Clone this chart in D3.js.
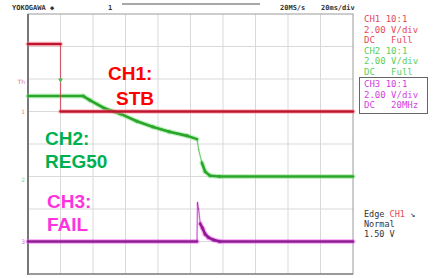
<!DOCTYPE html>
<html>
<head>
<meta charset="utf-8">
<script src="https://cdn.jsdelivr.net/npm/d3@7"></script>
<style>
  body { margin: 0; background: #fff; }
  svg { display: block; }
  text { white-space: pre; }
</style>
</head>
<body>
<div id="scope"></div>
<script>
// time in ms (20 ms/div), voltage in V (2 V/div)
var ch1Time = [0, 20, 20, 200];
var ch1Volt = [4.15, 4.15, 0, 0];

var ch2Time = [0, 34, 38, 47, 57, 67, 77, 87, 98, 104, 105, 107, 109, 112, 118, 200];
var ch2Volt = [4.95, 4.95, 4.7, 4.2, 3.85, 3.4, 3.05, 2.75, 2.5, 2.3, 1.65, 0.85, 0.3, 0.05, 0, 0];

var ch3Time = [0, 104, 104.3, 105, 106, 107.5, 109, 111, 114, 118, 200];
var ch3Volt = [0, 0, 2.4, 2.0, 1.1, 0.8, 0.45, 0.25, 0.1, 0, 0];

var labels = [
  {lines: ["CH1:", "STB"], color: "#ff0000"},
  {lines: ["CH2:", "REG50"], color: "#00b050"},
  {lines: ["CH3:", "FAIL"], color: "#ff33dd"}
];

var setupText = [
  {t: "CH1 10:1", c: "#e8475a"}, {t: "2.00 V/div", c: "#e8475a"}, {t: "DC   Full", c: "#e8475a"},
  {t: "CH2 10:1", c: "#5ccf5c"}, {t: "2.00 V/div", c: "#5ccf5c"}, {t: "DC   Full", c: "#5ccf5c"},
  {t: "CH3 10:1", c: "#d23fe0"}, {t: "2.00 V/div", c: "#d23fe0"}, {t: "DC   20MHz", c: "#d23fe0"}
];

var w = 434, h = 278;
var pLeft = 28, pRight = 353, pTop = 14, pBottom = 274;

var svg = d3.select("#scope").append("svg")
  .attr("width", w).attr("height", h);

var xScale = d3.scaleLinear().domain([0, 200]).range([pLeft, pRight]);
var yDiv = d3.scaleLinear().domain([0, 8]).range([pBottom, pTop]);

// each channel: ground offset in divisions, 2 V per div
function chScale(offset) {
  return d3.scaleLinear().domain([0, 2]).range([yDiv(offset), yDiv(offset + 1)]);
}
var y1 = chScale(5), y2 = chScale(3), y3 = chScale(1);

// grid
svg.append("g").selectAll("line")
  .data(d3.range(20, 200, 20)).enter().append("line")
  .attr("x1", d => xScale(d)).attr("x2", d => xScale(d))
  .attr("y1", pTop).attr("y2", pBottom)
  .attr("stroke", "#d9d9d9").attr("stroke-width", 1);
svg.append("g").selectAll("line")
  .data(d3.range(1, 8)).enter().append("line")
  .attr("x1", pLeft).attr("x2", pRight)
  .attr("y1", d => yDiv(d)).attr("y2", d => yDiv(d))
  .attr("stroke", "#d9d9d9").attr("stroke-width", 1);

svg.append("rect")
  .attr("x", pLeft).attr("y", pTop)
  .attr("width", pRight - pLeft).attr("height", pBottom - pTop)
  .attr("fill", "none").attr("stroke", "#9a9a9a").attr("stroke-width", 1);
svg.append("line").attr("x1", pLeft).attr("x2", pLeft).attr("y1", pTop).attr("y2", pBottom + 1)
  .attr("stroke", "#777").attr("stroke-width", 2);
svg.append("line").attr("x1", pLeft).attr("x2", pRight).attr("y1", pBottom).attr("y2", pBottom)
  .attr("stroke", "#888").attr("stroke-width", 1.5);

// traces: flat parts thick, fast edges thin
function drawTrace(times, volts, ys, core, halo) {
  var pts = times.map((t, i) => [xScale(t), ys(volts[i])]);
  var g = svg.append("g");
  for (var i = 0; i < pts.length - 1; i++) {
    var a = pts[i], b = pts[i + 1];
    var steep = Math.abs(b[1] - a[1]) > 3 * Math.abs(b[0] - a[0]);
    g.append("line")
      .attr("x1", a[0]).attr("y1", a[1]).attr("x2", b[0]).attr("y2", b[1])
      .attr("stroke", halo).attr("stroke-opacity", steep ? 0.3 : 0.45)
      .attr("stroke-width", steep ? 2 : 5).attr("stroke-linecap", "round");
  }
  for (var j = 0; j < pts.length - 1; j++) {
    var p = pts[j], q = pts[j + 1];
    var st = Math.abs(q[1] - p[1]) > 3 * Math.abs(q[0] - p[0]);
    g.append("line")
      .attr("x1", p[0]).attr("y1", p[1]).attr("x2", q[0]).attr("y2", q[1])
      .attr("stroke", core).attr("stroke-opacity", st ? 0.6 : 1)
      .attr("stroke-width", st ? 1 : 2.6).attr("stroke-linecap", "round");
  }
}

drawTrace(ch2Time, ch2Volt, y2, "#2aa62a", "#7fe07f");
drawTrace(ch3Time, ch3Volt, y3, "#8e1b92", "#ef5ef0");
drawTrace(ch1Time, ch1Volt, y1, "#c0142c", "#ff8fa0");

// trigger mark on CH1 edge
svg.append("path")
  .attr("d", d3.symbol().type(d3.symbolTriangle).size(10))
  .attr("transform", "translate(" + xScale(20) + "," + (yDiv(6) + 1) + ") rotate(180)")
  .attr("fill", "#4cbb4c");

// ground markers at left edge
var marks = [
  {t: "Th", y: yDiv(5.9), c: "#e07090"},
  {t: "1", y: yDiv(5), c: "#e09070"},
  {t: "2", y: yDiv(2.9), c: "#80d080"},
  {t: "3", y: yDiv(1), c: "#d070d0"}
];
svg.append("g").selectAll("text").data(marks).enter().append("text")
  .attr("x", pLeft - 3).attr("y", d => d.y + 2)
  .attr("text-anchor", "end")
  .attr("font-family", "DejaVu Sans").attr("font-size", 6)
  .attr("fill", d => d.c).text(d => d.t);

// channel labels
var labelPos = [[108, 80], [45, 145], [47, 208]];
labels.forEach(function(l, i) {
  var t = svg.append("text")
    .attr("x", labelPos[i][0]).attr("y", labelPos[i][1])
    .attr("font-family", "Liberation Sans, Arial, sans-serif")
    .attr("font-weight", "bold").attr("font-size", 19)
    .attr("fill", l.color);
  t.append("tspan").text(l.lines[0]);
  t.append("tspan").attr("x", labelPos[i][0] + (i == 0 ? 8 : 0)).attr("dy", i == 0 ? 25 : 23).text(l.lines[1]);
});

// header
var hdr = svg.append("g").attr("font-family", "DejaVu Sans Mono, monospace")
  .attr("font-size", 7).attr("fill", "#333").attr("font-weight", "bold");
hdr.append("text").attr("x", 12).attr("y", 10).text("YOKOGAWA \u25C6");
hdr.append("text").attr("x", 108).attr("y", 10).text("1");
hdr.append("text").attr("x", 280).attr("y", 10).text("20MS/s");
hdr.append("text").attr("x", 321).attr("y", 10).text("20ms/div");
svg.append("rect").attr("x", 122).attr("y", 3).attr("width", 138).attr("height", 2)
  .attr("fill", "#a8a8a8");

// setup panel
svg.append("g").selectAll("text").data(setupText).enter().append("text")
  .attr("x", 364).attr("y", (d, i) => 22 + i * 10.6 + (i >= 6 ? 1.5 : 0))
  .attr("font-family", "DejaVu Sans Mono, monospace").attr("font-size", 9)
  .attr("fill", d => d.c).text(d => d.t);
svg.append("rect").attr("x", 359.5).attr("y", 77.5).attr("width", 68).attr("height", 36)
  .attr("fill", "none").attr("stroke", "#666").attr("stroke-width", 1);

var trig = svg.append("g").attr("font-family", "DejaVu Sans Mono, monospace")
  .attr("font-size", 8.5).attr("fill", "#333");
var e = trig.append("text").attr("x", 364).attr("y", 217);
e.append("tspan").text("Edge ");
e.append("tspan").attr("fill", "#e8475a").text("CH1");
e.append("tspan").text(" \u2198");
trig.append("text").attr("x", 364).attr("y", 227).text("Normal");
trig.append("text").attr("x", 364).attr("y", 237).text("1.50 V");
</script>
</body>
</html>
